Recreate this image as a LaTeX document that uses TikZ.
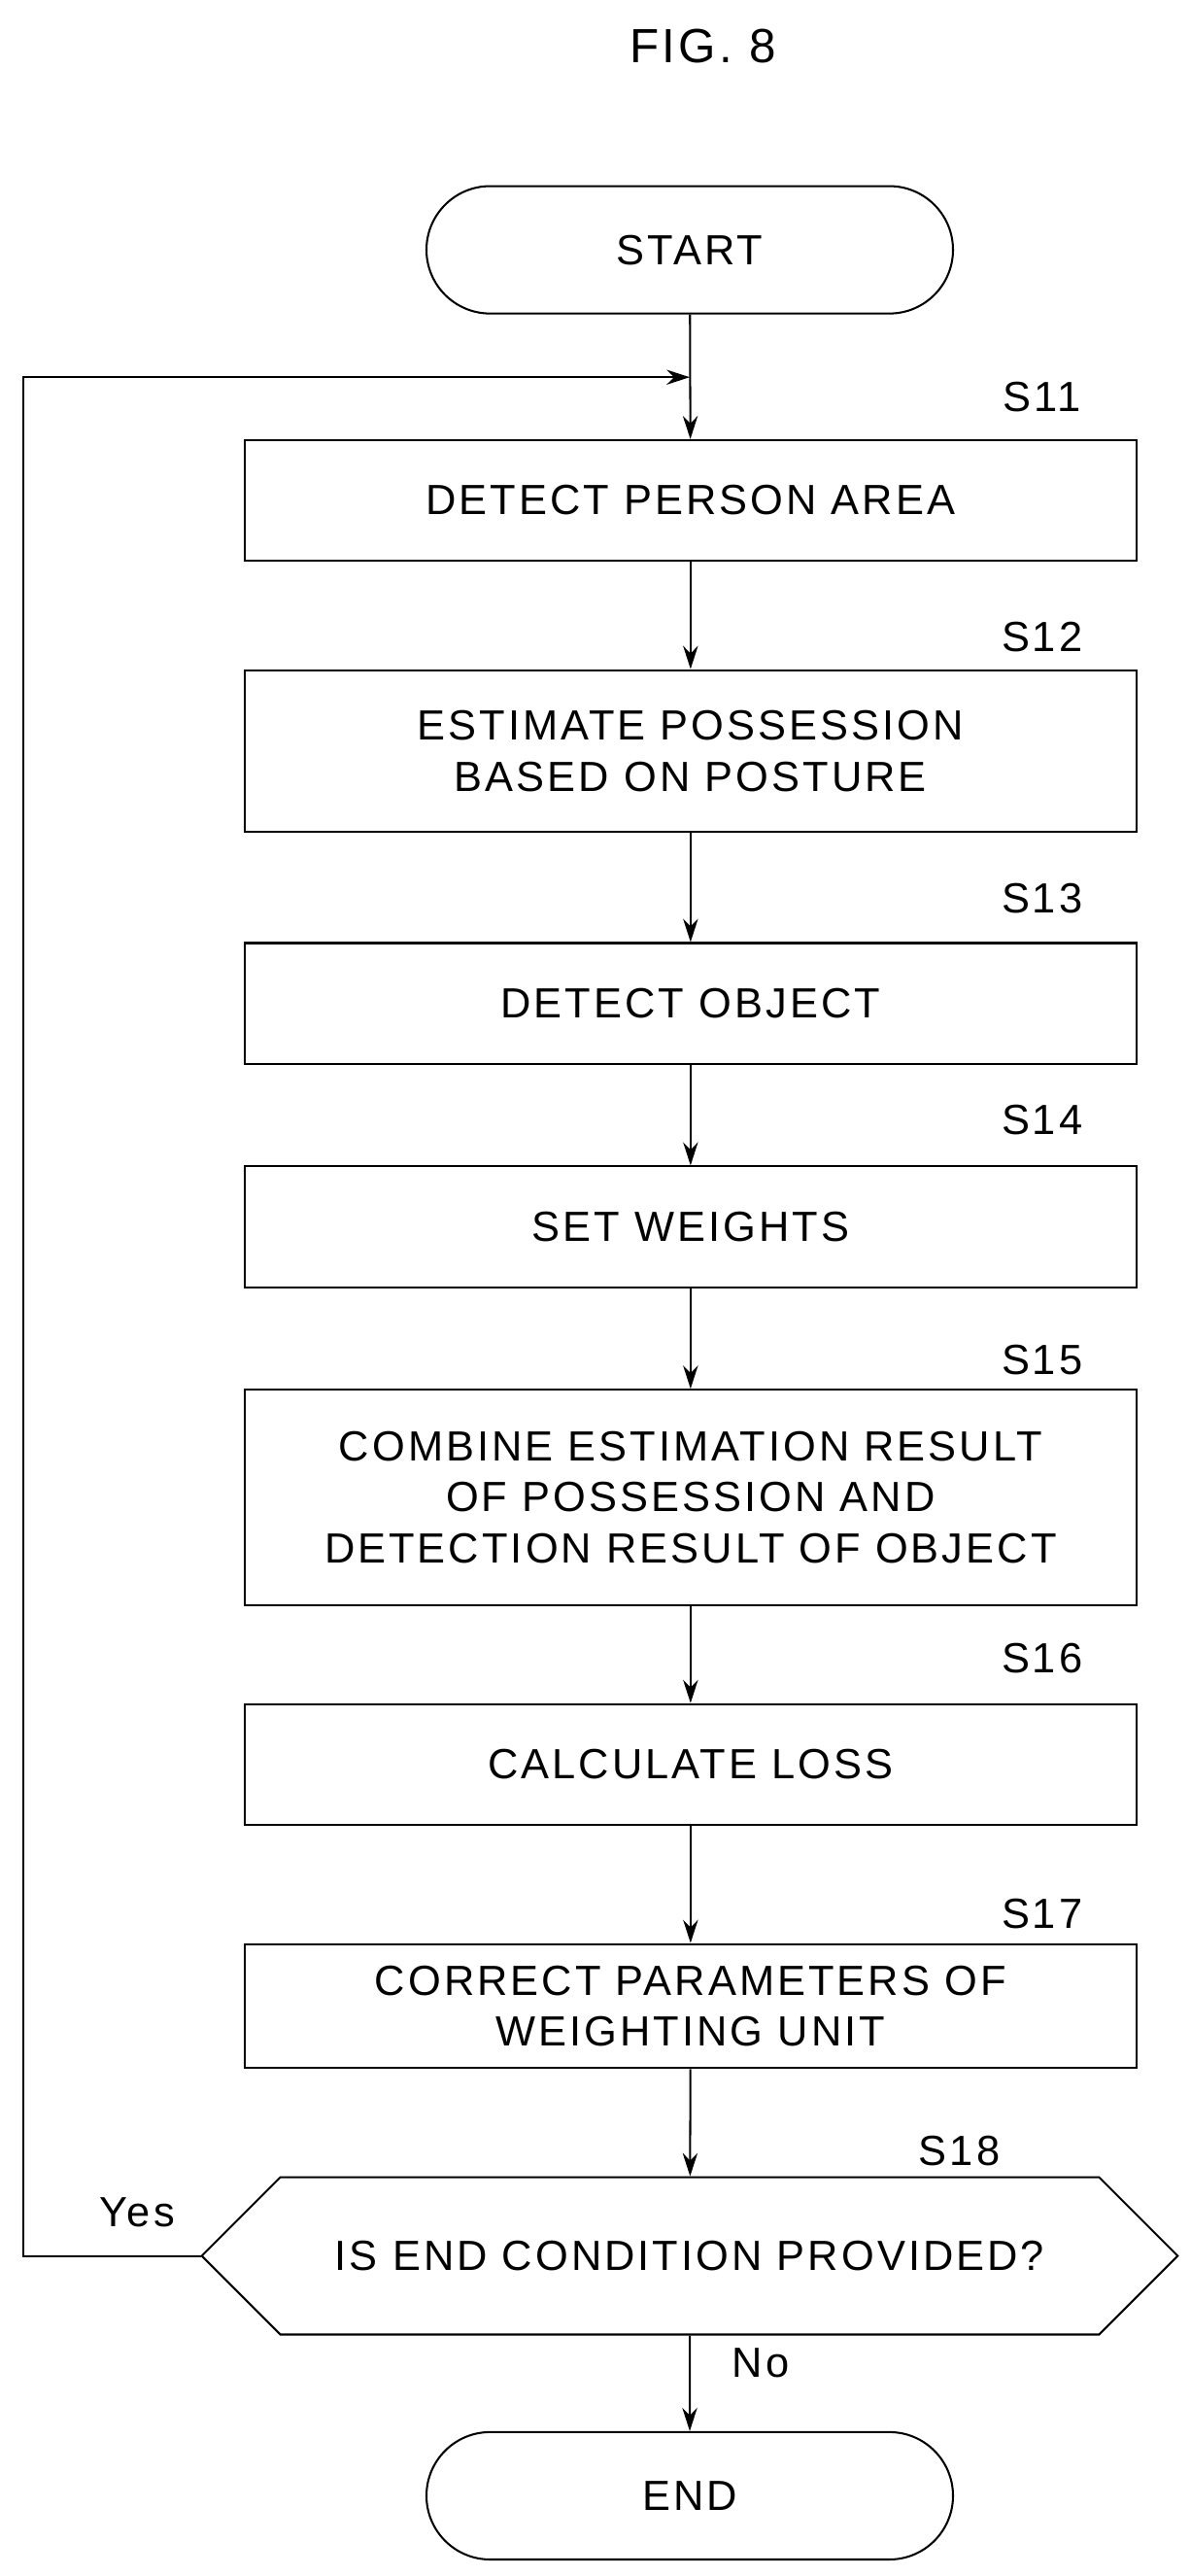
\documentclass[tikz,border=0pt]{standalone}
\usepackage{fontspec}
\setmainfont{Liberation Sans}[LetterSpace=7]
\usetikzlibrary{shapes.misc,arrows.meta}
\begin{document}
\begin{tikzpicture}[x=1pt,y=-1pt,
  every node/.style={font=\fontsize{25.5}{31}\selectfont},
  box/.style={draw,line width=1.2pt,minimum width=539pt,minimum height=73pt,align=center,inner sep=0pt},
  term/.style={draw,line width=1.2pt,rounded rectangle,minimum width=325pt,minimum height=77pt},
  lab/.style={anchor=center},
  arr/.style={line width=1.2pt,-{Stealth[length=14pt,width=9pt]}}]
\useasboundingbox (0,0) rectangle (720,1557);
\node at (425,28) {\fontsize{29}{34}\selectfont FIG. 8};
\node[term] (start) at (417,151) {START};
\node[box] (s11) at (417.5,302.5) {DETECT PERSON AREA};
\node[box,minimum height=98pt] (s12) at (417.5,454) {ESTIMATE POSSESSION\\BASED ON POSTURE};
\node[box] (s13) at (417.5,606.5) {DETECT OBJECT};
\node[box] (s14) at (417.5,741.5) {SET WEIGHTS};
\node[box,minimum height=130pt] (s15) at (417.5,905) {COMBINE ESTIMATION RESULT\\OF POSSESSION AND\\DETECTION RESULT OF OBJECT};
\node[box] (s16) at (417.5,1066.5) {CALCULATE LOSS};
\node[box,minimum height=75pt] (s17) at (417.5,1212.5) {CORRECT PARAMETERS OF\\WEIGHTING UNIT};
\node[draw,line width=1.2pt,chamfered rectangle,chamfered rectangle xsep=38pt,chamfered rectangle ysep=38.5pt,minimum width=590pt,minimum height=77pt,inner sep=0pt] (s18) at (417,1363.5) {IS END CONDITION PROVIDED?};
\node[term] (end) at (417,1508.5) {END};
\node[lab] at (630,240) {S11};
\node[lab] at (630,385) {S12};
\node[lab] at (630,543) {S13};
\node[lab] at (630,677) {S14};
\node[lab] at (630,822) {S15};
\node[lab] at (630,1002) {S16};
\node[lab] at (630,1157) {S17};
\node[lab] at (580,1300) {S18};
\node[lab] at (83,1337) {Yes};
\node[lab] at (460,1428) {No};
\coordinate (j) at (417,228);
\draw[arr] (start) -- (s11);
\draw[arr] (s11) -- (s12);
\draw[arr] (s12) -- (s13);
\draw[arr] (s13) -- (s14);
\draw[arr] (s14) -- (s15);
\draw[arr] (s15) -- (s16);
\draw[arr] (s16) -- (s17);
\draw[arr] (s17) -- (s18);
\draw[arr] (s18) -- (end);
\draw[arr] (s18.west) -- (14,1363.5) -- (14,228) -- (j);
\end{tikzpicture}
\end{document}
